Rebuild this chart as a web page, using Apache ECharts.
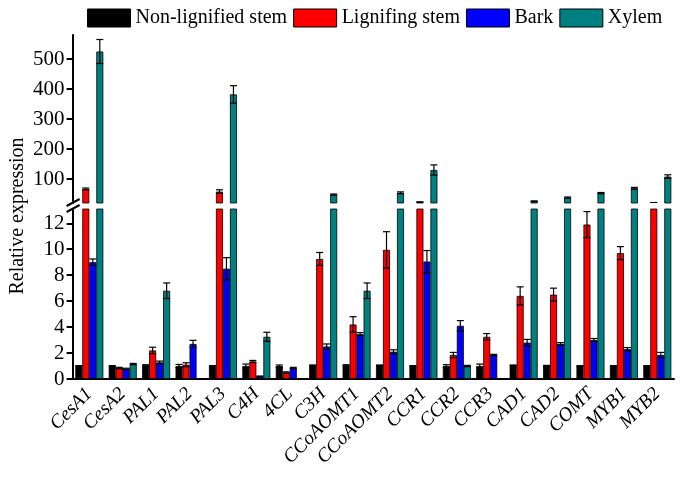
<!DOCTYPE html>
<html>
<head>
<meta charset="utf-8">
<script src="https://cdn.jsdelivr.net/npm/echarts@6/dist/echarts.min.js"></script>
<style>html,body{margin:0;padding:0;background:#fff}#c{width:685px;height:478px}</style>
</head>
<body>
<div id="c"></div>
<script>
const categories = ['CesA1','CesA2','PAL1','PAL2','PAL3','C4H','4CL','C3H','CCoAOMT1','CCoAOMT2','CCR1','CCR2','CCR3','CAD1','CAD2','COMT','MYB1','MYB2'];
const seriesNames = ['Non-lignified stem','Lignifing stem','Bark','Xylem'];
const nonLignified = [1.0,1.0,1.05,1.0,1.0,1.0,1.0,1.05,1.05,1.05,1.0,1.0,1.0,1.05,1.0,1.0,1.0,1.0];
const nonLignifiedErr = [0.03,0.03,0.05,0.12,0.03,0.15,0.08,0.03,0.05,0.03,0.03,0.1,0.15,0.03,0.05,0.03,0.03,0.03];
const lignifing = [67,0.85,2.2,1.1,58,1.35,0.5,9.25,4.2,9.95,23,1.85,3.25,6.4,6.5,11.9,9.7,21];
const lignifingErr = [3,0.05,0.25,0.15,6,0.08,0.05,0.5,0.6,1.4,1,0.2,0.25,0.7,0.5,1.0,0.5,0.5];
const bark = [9.0,0.78,1.28,2.7,8.5,0.2,0.85,2.5,3.45,2.1,9.05,4.1,1.85,2.8,2.7,3.0,2.3,1.85];
const barkErr = [0.25,0.05,0.1,0.28,0.85,0.03,0.05,0.2,0.12,0.15,0.85,0.4,0.05,0.25,0.1,0.12,0.12,0.2];
const xylem = [525,1.15,6.8,0,382,3.25,0,48,6.8,54,130,1.0,0,26,38,53,69,108];
const xylemErr = [40,0.05,0.6,0,29,0.35,0,2,0.6,3,17,0.05,0,1,2,2,3,6];
const lowerTicks = [0,2,4,6,8,10,12];
const upperTicks = [100,200,300,400,500];

const values = [nonLignified, lignifing, bark, xylem];
const errors = [nonLignifiedErr, lignifingErr, barkErr, xylemErr];
const colors = ['#000000','#ff0000','#0000ff','#008080'];
const LOWER_MAX = 13.1, UPPER_MIN = 20, UPPER_MAX = 580;
const BAR_W = 7;
const FONT = '"Liberation Serif","Times New Roman",serif';

const chart = echarts.init(document.getElementById('c'), null, {renderer:'canvas'});

const series = [];
values.forEach((arr, s) => {
  series.push({
    name: seriesNames[s], type:'bar', xAxisIndex:1, yAxisIndex:1,
    data: arr, barWidth: BAR_W, barGap:'0%',
    itemStyle:{color:colors[s], borderColor:'#000', borderWidth:0.8},
    clip:true, animation:false
  });
  series.push({
    name: seriesNames[s], type:'bar', xAxisIndex:0, yAxisIndex:0,
    data: arr.map(v => v > LOWER_MAX ? v : '-'), barWidth: BAR_W, barGap:'0%',
    itemStyle:{color:colors[s], borderColor:'#000', borderWidth:0.8},
    clip:true, animation:false
  });
});

function errSeries(gridIdx, filter) {
  const data = [];
  values.forEach((arr, s) => arr.forEach((v, i) => {
    if (filter(v) && errors[s][i] > 0) data.push([i, v, errors[s][i], s]);
  }));
  return {
    type:'custom', xAxisIndex:gridIdx, yAxisIndex:gridIdx, data, animation:false, z:10, clip:true,
    renderItem(params, api) {
      const i = api.value(0), v = api.value(1), e = api.value(2), s = api.value(3);
      const off = (s - 1.5) * BAR_W;
      const top = api.coord([i, v + e]);
      const bot = api.coord([i, v - e]);
      const x = top[0] + off;
      const cw = 3.5;
      const st = {stroke:'#000', lineWidth:1.2};
      return {type:'group', children:[
        {type:'line', shape:{x1:x, y1:top[1], x2:x, y2:bot[1]}, style:st},
        {type:'line', shape:{x1:x-cw, y1:top[1], x2:x+cw, y2:top[1]}, style:st},
        {type:'line', shape:{x1:x-cw, y1:bot[1], x2:x+cw, y2:bot[1]}, style:st}
      ]};
    }
  };
}
series.push(errSeries(1, v => v <= LOWER_MAX));
series.push(errSeries(0, v => v > LOWER_MAX));

const axisLabelStyle = {color:'#000', fontFamily:FONT, fontSize:21};

chart.setOption({
  animation:false,
  backgroundColor:'#fff',
  legend:{
    data:seriesNames, left:82, top:3, itemWidth:43, itemHeight:18, itemGap:6,
    icon:'rect',
    itemStyle:{borderColor:'#000', borderWidth:1},
    textStyle:{color:'#000', fontFamily:FONT, fontSize:20}
  },
  grid:[
    {left:72.6, right:11, top:35, bottom:275},
    {left:72.6, right:11, top:209, bottom:99}
  ],
  xAxis:[
    {type:'category', gridIndex:0, data:categories, show:false},
    {type:'category', gridIndex:1, data:categories,
     axisLine:{lineStyle:{color:'#000', width:2}},
     axisTick:{alignWithLabel:true, length:6, lineStyle:{color:'#000', width:2}},
     axisLabel:{interval:0, rotate:45, margin:12, color:'#000', fontFamily:FONT, fontSize:19.5, fontStyle:'italic'}}
  ],
  yAxis:[
    {type:'value', gridIndex:0, min:UPPER_MIN, max:UPPER_MAX,
     axisLine:{show:true, lineStyle:{color:'#000', width:2}},
     axisTick:{show:true, length:6, lineStyle:{color:'#000', width:2}, customValues:upperTicks},
     axisLabel:Object.assign({margin:8, customValues:upperTicks}, axisLabelStyle),
     splitLine:{show:false}},
    {type:'value', gridIndex:1, min:0, max:LOWER_MAX,
     axisLine:{show:true, lineStyle:{color:'#000', width:2}},
     axisTick:{show:true, length:6, lineStyle:{color:'#000', width:2}, customValues:lowerTicks},
     axisLabel:Object.assign({margin:8, customValues:lowerTicks}, axisLabelStyle),
     splitLine:{show:false}}
  ],
  series
});

// axis title and break marks, positioned from the grid layout
const ax = chart.convertToPixel({xAxisIndex:1}, 0) - 16.7;
const yU = chart.convertToPixel({yAxisIndex:0}, UPPER_MIN);
const yL = chart.convertToPixel({yAxisIndex:1}, LOWER_MAX);
chart.setOption({
  graphic:[
    {type:'rect', shape:{x:ax-3, y:yU+1, width:6, height:yL-yU-2}, style:{fill:'#fff'}, z:100},
    {type:'line', shape:{x1:ax-6, y1:yU+3, x2:ax+7, y2:yU-4}, style:{stroke:'#000', lineWidth:2}, z:101},
    {type:'line', shape:{x1:ax-6, y1:yL+3, x2:ax+7, y2:yL-4}, style:{stroke:'#000', lineWidth:2}, z:101},
    {type:'text', x:18, y:(yU+yL)/2 + 10, rotation:Math.PI/2,
     style:{text:'Relative expression', fill:'#000', font:'20px ' + FONT, align:'center', verticalAlign:'middle'}}
  ]
});
</script>
</body>
</html>
